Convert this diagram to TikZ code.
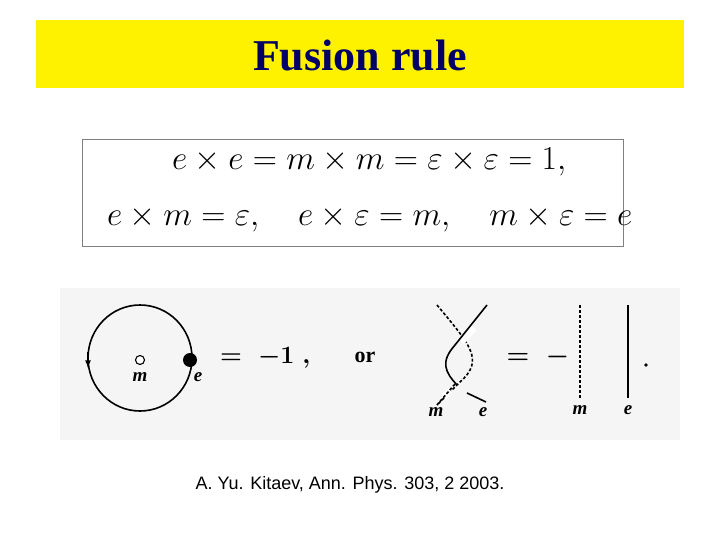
\RequirePackage{fix-cm}
\documentclass[tikz,border=0pt]{standalone}
\usepackage{tikz}
\usepackage{fontspec}
\usetikzlibrary{positioning,arrows}
\newfontfamily\titlefont{Liberation Serif}
\newfontfamily\citefont{Liberation Sans}
\tikzset{
  strand/.style={line width=1.6pt},
  dstrand/.style={line width=1.6pt, dash pattern=on 3pt off 2pt},
  lbl/.style={font={\titlefont\fontsize{19}{19}\selectfont\bfseries\itshape}},
  eqn/.style={font={\fontsize{33.5}{33.5}\selectfont}, inner sep=0pt}
}
\begin{document}
\begin{tikzpicture}[x=1pt, y=-1pt]
  \useasboundingbox (0,0) rectangle (720,540);
  \fill[yellow] (36,20) rectangle (684,88);
  \node (title) at (360,56) {\titlefont\fontsize{44}{44}\selectfont\bfseries\textcolor{blue!40!black}{Fusion rule}};
  \draw[gray, line width=0.8pt] (82,139) rectangle (623,246);
  \node[eqn, anchor=west] (line1) at (172,162) {$e\times e=m\times m=\varepsilon\times\varepsilon=1,$};
  \node[eqn, anchor=west] (line2) at (107,219) {$e\times m=\varepsilon,\quad e\times\varepsilon=m,\quad m\times\varepsilon=e$};
  \fill[black!4] (60,288) rectangle (680,440);
  % circle with charges
  \draw[strand] (140,358) ellipse (52 and 53);
  \draw[strand, -latex] (88,352) -- (88,368);
  \draw[line width=1.1pt, fill=white] (140,360) circle (4.5);
  \node[lbl] (m1) at (140,377) {m};
  \fill (190,360) circle (7);
  \node[lbl] (e1) at (198,377) {e};
  \node[eqn, font={\fontsize{25}{25}\selectfont\boldmath}, anchor=west] (minus1) at (220,358) {$=\;-1\;,$};
  \node[font={\titlefont\fontsize{22}{22}\selectfont\bfseries}] (or) at (365,357) {or};
  % braid
  \draw[dstrand] (437,305) .. controls (470,345) and (485,360) .. (460,382) -- (437,405);
  \draw[white, line width=6pt] (474,328) -- (462,342);
  \draw[strand] (487,305) -- (455,345) .. controls (440,362) and (445,372) .. (457,385);
  \draw[white, line width=6pt] (450,390) -- (444,397);
  \draw[dstrand] (455,384) -- (437,405);
  \draw[strand] (467,393) -- (486,402);
  \node[lbl] (m2) at (436,412) {m};
  \node[lbl] (e2) at (483,412) {e};
  \node[font={\fontsize{26}{26}\selectfont\boldmath}, anchor=west] (eqminus) at (503,357) {$=\;-$};
  \draw[dstrand] (580,305) -- (580,398);
  \draw[strand] (628,305) -- (628,398);
  \node[lbl] (m3) at (580,410) {m};
  \node[lbl] (e3) at (628,410) {e};
  \fill (646,365) circle (1.8);
  \node[font={\citefont\fontsize{18}{18}\selectfont}] (cite) at (350,485) {A. Yu. Kitaev, Ann. Phys. 303, 2 2003.};
\end{tikzpicture}
\end{document}
